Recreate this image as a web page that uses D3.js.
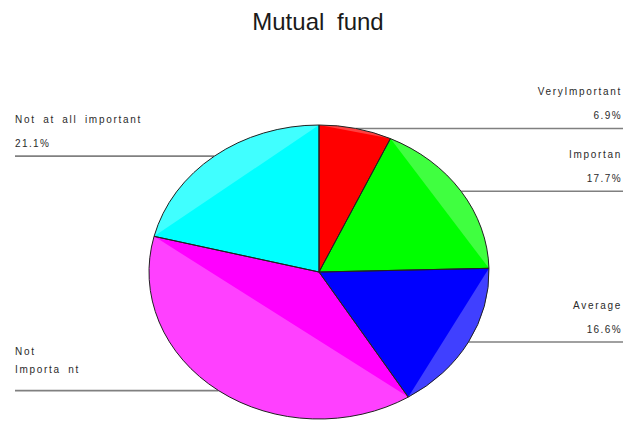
<!DOCTYPE html>
<html>
<head>
<meta charset="utf-8">
<script src="https://cdn.jsdelivr.net/npm/d3@7"></script>
<style>
  html, body { margin: 0; padding: 0; background: #fff; }
  svg { display: block; }
</style>
</head>
<body>
<div id="chart"></div>
<script>
(function () {
  // ---------- data ----------
  const categories = ["VeryImportant", "Importan", "Average", "Not Important", "Not at all important"];
  const labelLines = [["VeryImportant"], ["Importan"], ["Average"], ["Not", "Importa nt"], ["Not at all important"]];
  const values = [6.9, 17.7, 16.6, 37.7, 21.1];
  const showPct = [true, true, true, false, true];
  const colors = ["#ff0000", "#00ff00", "#0000ff", "#ff00ff", "#00ffff"];

  // ---------- layout ----------
  const width = 623, height = 423;
  const cx = 319, cy = 272;
  const rx = 170, ry = 147;

  const svg = d3.select("#chart").append("svg")
    .attr("width", width)
    .attr("height", height)
    .style("font-family", "Arial, 'Liberation Sans', sans-serif");

  svg.append("text")
    .attr("x", 318)
    .attr("y", 30)
    .attr("text-anchor", "middle")
    .style("font-size", "24px")
    .style("word-spacing", "6px")
    .style("fill", "#1a1a1a")
    .text("Mutual fund");

  const pie = d3.pie().sort(null).value(d => d);
  const arcs = pie(values);

  // ---------- leader lines + labels (behind pie) ----------
  const lines = svg.append("g");
  arcs.forEach((a, i) => {
    const mid = (a.startAngle + a.endAngle) / 2;
    const px = cx + rx * Math.sin(mid);
    const py = cy - ry * Math.cos(mid);
    const right = Math.sin(mid) > 0;
    lines.append("line")
      .attr("x1", px).attr("y1", py)
      .attr("x2", right ? width : 15).attr("y2", py)
      .attr("stroke", "#808080")
      .attr("stroke-width", 1.6);

    const tx = right ? 622 : 15;
    const anchor = right ? "end" : "start";
    const rows = labelLines[i];
    const nameY = showPct[i] ? py - 33 : py - 36;
    rows.forEach((r, k) => {
      lines.append("text")
        .attr("x", tx)
        .attr("y", nameY + k * 18)
        .attr("text-anchor", anchor)
        .style("font-size", "10px")
        .style("letter-spacing", "1.7px")
        .style("word-spacing", "3px")
        .style("fill", "#2a2a2a")
        .text(r);
    });
    if (showPct[i]) {
      lines.append("text")
        .attr("x", tx)
        .attr("y", py - 9)
        .attr("text-anchor", anchor)
        .style("font-size", "10px")
        .style("letter-spacing", "1.4px")
        .style("fill", "#2a2a2a")
        .text(values[i].toFixed(1) + "%");
    }
  });

  // ---------- pie (elliptical) ----------
  const g = svg.append("g")
    .attr("transform", `translate(${cx},${cy}) scale(${rx / ry},1)`);

  const arc = d3.arc().innerRadius(0).outerRadius(ry);

  g.selectAll("path.slice")
    .data(arcs)
    .enter()
    .append("path")
    .attr("class", "slice")
    .attr("d", arc)
    .attr("fill", (d, i) => colors[i]);

  // lighter rim segments (between chord and arc of each slice)
  function segment(a) {
    const p = d3.path();
    p.moveTo(ry * Math.sin(a.startAngle), -ry * Math.cos(a.startAngle));
    p.arc(0, 0, ry, a.startAngle - Math.PI / 2, a.endAngle - Math.PI / 2);
    p.closePath();
    return p.toString();
  }
  g.selectAll("path.shade")
    .data(arcs)
    .enter()
    .append("path")
    .attr("class", "shade")
    .attr("d", segment)
    .attr("fill", "#fff")
    .attr("fill-opacity", 0.25);

  g.selectAll("path.edge")
    .data(arcs)
    .enter()
    .append("path")
    .attr("class", "edge")
    .attr("d", arc)
    .attr("fill", "none")
    .attr("stroke", "#222")
    .attr("stroke-width", 1)
    .attr("vector-effect", "non-scaling-stroke");
})();
</script>
</body>
</html>
